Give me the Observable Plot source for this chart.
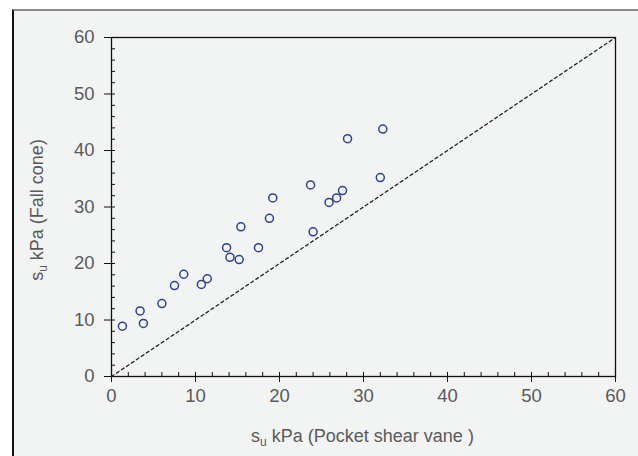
<!DOCTYPE html>
<html><head><meta charset="utf-8">
<script src="https://cdn.jsdelivr.net/npm/d3@7"></script>
<script src="https://cdn.jsdelivr.net/npm/@observablehq/plot@0.6"></script>
<style>
html,body{margin:0;padding:0;background:#fff;}
#wrap{position:relative;width:638px;height:456px;overflow:hidden;}
#panel{position:absolute;left:12px;top:9px;width:700px;height:500px;background:#f2f3f3;border-left:2px solid #111;border-top:2px solid #8c8c8c;}
#chart{position:absolute;left:0;top:0;}
</style></head><body>
<div id="wrap"><div id="panel"></div><div id="chart"></div></div>
<script>
// su from pocket shear vane (kPa)
const vane = [1.3, 3.4, 3.8, 6.0, 7.5, 8.6, 10.7, 11.4, 13.7, 14.1, 15.2, 15.4, 17.5, 18.8, 19.2, 23.7, 24.0, 25.9, 26.8, 27.5, 28.1, 32.0, 32.3];
// su from fall cone (kPa)
const cone = [8.9, 11.6, 9.4, 12.9, 16.1, 18.1, 16.3, 17.3, 22.8, 21.1, 20.7, 26.5, 22.8, 28.0, 31.6, 33.9, 25.6, 30.8, 31.6, 32.9, 42.1, 35.2, 43.8];
const majorTicks = [0, 10, 20, 30, 40, 50, 60];
const minorTicks = [0, 2, 4, 6, 8, 10, 12, 14, 16, 18, 20, 22, 24, 26, 28, 30, 32, 34, 36, 38, 40, 42, 44, 46, 48, 50, 52, 54, 56, 58, 60];
const refLine = [0, 60];

const points = vane.map((x, i) => ({x, y: cone[i]}));
const line11 = refLine.map(v => ({x: v, y: v}));

const plot = Plot.plot({
  width: 638, height: 456,
  marginLeft: 111, marginRight: 23, marginTop: 37, marginBottom: 80,
  style: {background: "transparent", fontFamily: "'Liberation Sans', Arial, sans-serif", fontSize: "18.5px", color: "#5a5a5a", overflow: "visible"},
  x: {domain: [0, 60]},
  y: {domain: [0, 60]},
  marks: [
    Plot.axisX({ticks: minorTicks, tickSize: -4, text: null, label: null, stroke: "#111"}),
    Plot.axisY({ticks: minorTicks, tickSize: -4, text: null, label: null, stroke: "#111"}),
    Plot.axisX({ticks: majorTicks, tickSize: 6, tickPadding: 6.5, label: null, stroke: "#111", fontSize: 18.5}),
    Plot.axisY({ticks: majorTicks, tickSize: 7, tickPadding: 10, label: null, stroke: "#111", fontSize: 18.5}),
    Plot.frame({stroke: "#111", strokeWidth: 1.3}),
    Plot.line(line11, {x: "x", y: "y", stroke: "#222", strokeDasharray: "3,3", strokeWidth: 1.3}),
    Plot.dot(points, {x: "x", y: "y", r: 4, stroke: "#2e4288", strokeWidth: 1.5, fill: "none"})
  ]
});
document.getElementById("chart").appendChild(plot);

const svg = d3.select(plot);
svg.selectAll("text").style("font-size", "18.5px").style("font-family", "'Liberation Sans', Arial, sans-serif");

const xl = svg.append("text").attr("x", 362.5).attr("y", 442).attr("text-anchor", "middle")
  .attr("fill", "#5a5a5a").style("font-size", "18px");
xl.append("tspan").text("s");
xl.append("tspan").style("font-size", "12px").attr("dy", 4).text("u");
xl.append("tspan").attr("dy", -4).text(" kPa (Pocket shear vane )");

const yl = svg.append("text").attr("transform", "translate(43,210) rotate(-90)").attr("text-anchor", "middle")
  .attr("fill", "#5a5a5a").style("font-size", "18px");
yl.append("tspan").text("s");
yl.append("tspan").style("font-size", "12px").attr("dy", 4).text("u");
yl.append("tspan").attr("dy", -4).text(" kPa (Fall cone)");
</script>
</body></html>
